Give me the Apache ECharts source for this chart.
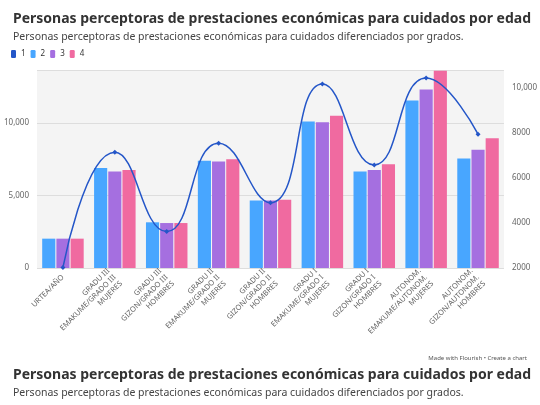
<!DOCTYPE html>
<html><head><meta charset="utf-8">
<script src="https://cdn.jsdelivr.net/npm/echarts@6/dist/echarts.min.js"></script>
<style>html,body{margin:0;padding:0;background:#fff}#c{width:540px;height:405px}</style>
</head><body><div id="c"></div>
<script>
const categories = ['URTEA/AÑO', 'GRADU III\nEMAKUME/GRADO III\nMUJERES', 'GRADU III\nGIZON/GRADO III\nHOMBRES', 'GRADU II\nEMAKUME/GRADO II\nMUJERES', 'GRADU II\nGIZON/GRADO II\nHOMBRES', 'GRADU I\nEMAKUME/GRADO I\nMUJERES', 'GRADU I\nGIZON/GRADO I\nHOMBRES', 'AUTONOM.\nEMAKUME/AUTONOM.\nMUJERES', 'AUTONOM.\nGIZON/AUTONOM.\nHOMBRES'];
const series1 = [2023, 7150, 3620, 7550, 4900, 10180, 6580, 10440, 7950];
const series2 = [2023, 6900, 3150, 7400, 4650, 10100, 6650, 11550, 7550];
const series3 = [2023, 6650, 3100, 7350, 4650, 10050, 6750, 12300, 8150];
const series4 = [2023, 6750, 3100, 7500, 4700, 10500, 7150, 13600, 8950];
const leftTicks = [0, 5000, 10000];
const rightTicks = [2000, 4000, 6000, 8000, 10000];

const font = 'Noto Sans';
const chart = echarts.init(document.getElementById('c'));
const bar = (name, data, color) => ({
  name, type: 'bar', data, yAxisIndex: 0, barGap: '8%', barCategoryGap: '20%',
  itemStyle: { color }
});
const titleStyle = { fontSize: 14, fontWeight: 'bold', color: '#333' };
const subStyle = { fontSize: 10.5, color: '#444' };
const subText = 'Personas perceptoras de prestaciones económicas para cuidados diferenciados por grados.';
chart.setOption({
  textStyle: { fontFamily: font },
  title: [
    { text: 'Personas perceptoras de prestaciones económicas para cuidados por edad', left: 8, top: 7,
      textStyle: titleStyle, subtext: subText, subtextStyle: subStyle, itemGap: 6 },
    { text: 'Personas perceptoras de prestaciones económicas para cuidados por edad', left: 8, top: 363,
      textStyle: titleStyle, subtext: subText, subtextStyle: subStyle, itemGap: 6 },
    { text: 'Made with Flourish • Create a chart', right: 8, top: 350,
      textStyle: { fontSize: 6, fontWeight: 'normal', color: '#555' } }
  ],
  legend: {
    left: 6, top: 45, itemWidth: 5, itemHeight: 8, itemGap: 5, icon: 'roundRect',
    textStyle: { fontSize: 8, color: '#333' },
    data: ['1', '2', '3', '4']
  },
  grid: { left: 37, right: 35, top: 70, bottom: 137, show: true, backgroundColor: '#f4f4f4', borderWidth: 0 },
  xAxis: {
    type: 'category', data: categories,
    axisLine: { show: false }, axisTick: { show: false },
    axisLabel: { rotate: 45, fontSize: 7.5, color: '#666', interval: 0, lineHeight: 9, align: 'right' }
  },
  yAxis: [
    { type: 'value', min: 0, max: 13650, interval: 5000,
      axisLabel: { fontSize: 8, color: '#666', customValues: leftTicks,
        formatter: v => v.toLocaleString('en-US') },
      splitLine: { lineStyle: { color: '#ddd' } }, axisLine: { show: false } },
    { type: 'value', min: 2000, max: 10800, interval: 2000,
      axisLabel: { fontSize: 8, color: '#666', customValues: rightTicks,
        formatter: v => v >= 10000 ? v.toLocaleString('en-US') : String(v) },
      splitLine: { show: false }, axisLine: { show: false } }
  ],
  series: [
    { name: '1', type: 'line', data: series1, yAxisIndex: 1, smooth: 0.5, symbol: 'diamond', symbolSize: 5,
      itemStyle: { color: '#2456c8' }, lineStyle: { width: 1.5, color: '#2456c8' }, z: 5 },
    bar('2', series2, '#48a6ff'),
    bar('3', series3, '#a56fe0'),
    bar('4', series4, '#f06aa0')
  ]
});
</script></body></html>
